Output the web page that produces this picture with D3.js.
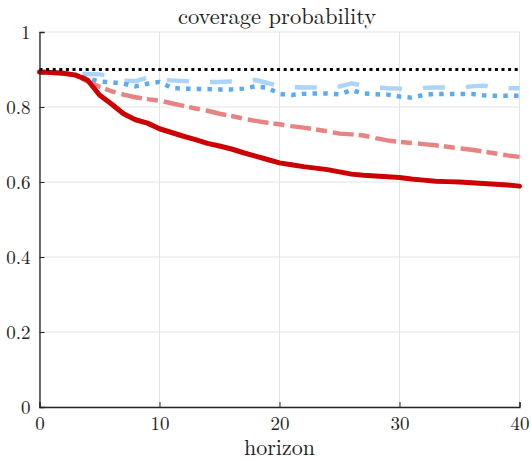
<!DOCTYPE html>
<html>
<head>
<meta charset="utf-8">
<script src="https://cdn.jsdelivr.net/npm/d3@7"></script>
<style>
  body { margin: 0; background: #fff; }
</style>
</head>
<body>
<div id="chart"></div>
<script>
// data, horizon 0..40
const horizons = d3.range(0, 41);
const solidRed = [0.893,0.892,0.890,0.885,0.872,0.832,0.808,0.782,0.766,0.757,0.742,0.732,0.722,0.713,0.703,0.696,0.688,0.678,0.669,0.660,0.651,0.646,0.641,0.637,0.633,0.627,0.621,0.618,0.616,0.614,0.612,0.608,0.605,0.602,0.601,0.600,0.598,0.596,0.594,0.592,0.589];
const dashRed = [0.895,0.893,0.890,0.885,0.868,0.854,0.842,0.833,0.826,0.821,0.817,0.810,0.803,0.796,0.790,0.782,0.776,0.769,0.763,0.758,0.754,0.749,0.745,0.740,0.735,0.729,0.727,0.724,0.717,0.711,0.707,0.704,0.701,0.698,0.694,0.690,0.686,0.681,0.676,0.671,0.667];
const dashBlue = [0.892,0.891,0.890,0.889,0.888,0.887,0.882,0.870,0.869,0.878,0.874,0.871,0.869,0.868,0.867,0.867,0.868,0.866,0.872,0.864,0.856,0.853,0.852,0.852,0.850,0.855,0.863,0.857,0.852,0.850,0.849,0.849,0.851,0.852,0.852,0.852,0.855,0.857,0.852,0.850,0.850];
const dotBlue = [0.892,0.891,0.889,0.886,0.876,0.868,0.866,0.862,0.855,0.862,0.867,0.851,0.849,0.848,0.848,0.847,0.847,0.849,0.855,0.851,0.835,0.832,0.835,0.836,0.836,0.834,0.845,0.836,0.834,0.833,0.828,0.825,0.832,0.835,0.835,0.835,0.835,0.831,0.830,0.830,0.830];
const nominal = horizons.map(() => 0.9);

const xTicks = [0, 10, 20, 30, 40];
const yTicks = [0, 0.2, 0.4, 0.6, 0.8, 1];

const width = 532, height = 461;
const margin = {left: 39.5, right: 12.5, top: 32, bottom: 54};
const font = '"Latin Modern Roman", "Liberation Serif", serif';

const svg = d3.select('#chart').append('svg')
    .attr('width', width)
    .attr('height', height);

const x = d3.scaleLinear().domain([0, 40]).range([margin.left, width - margin.right]);
const y = d3.scaleLinear().domain([0, 1]).range([height - margin.bottom, margin.top]);

// grid
const grid = svg.append('g').attr('stroke', '#e3e3e3').attr('stroke-width', 1);
grid.selectAll('.gx').data(xTicks).enter().append('line')
    .attr('x1', d => x(d)).attr('x2', d => x(d))
    .attr('y1', y(0)).attr('y2', y(1));
grid.selectAll('.gy').data(yTicks).enter().append('line')
    .attr('x1', x(0)).attr('x2', x(40))
    .attr('y1', d => y(d)).attr('y2', d => y(d));

// series
const line = vals => d3.line().x((d, i) => x(horizons[i])).y(d => y(d))(vals);
const series = [
  {v: dashBlue, color: '#acd3f8', w: 4.5, dash: '22,21', cap: 'butt'},
  {v: dotBlue, color: '#5aaaf4', w: 4.5, dash: '4.5,6.2', cap: 'butt'},
  {v: dashRed, color: '#e88383', w: 4.5, dash: '21,5,11,6', cap: 'butt'},
  {v: solidRed, color: '#cc0000', w: 5, dash: null, cap: 'round'},
  {v: nominal, color: '#000', w: 3, dash: '3,3.6', cap: 'butt'}
];
series.forEach(s => {
  svg.append('path')
      .attr('d', line(s.v))
      .attr('fill', 'none')
      .attr('stroke', s.color)
      .attr('stroke-width', s.w)
      .attr('stroke-linejoin', 'round')
      .attr('stroke-linecap', s.cap)
      .attr('stroke-dasharray', s.dash);
});

// axes
const xAxis = d3.axisBottom(x).tickValues(xTicks).tickSize(-5).tickPadding(10).tickFormat(d3.format('d'));
const yAxis = d3.axisLeft(y).tickValues(yTicks).tickSize(-5).tickPadding(9).tickFormat(d => d === 0 || d === 1 ? d : d.toFixed(1));

const gx = svg.append('g').attr('transform', 'translate(0,' + y(0) + ')').call(xAxis);
const gy = svg.append('g').attr('transform', 'translate(' + x(0) + ',0)').call(yAxis);
[gx, gy].forEach(g => {
  g.select('.domain').attr('stroke', '#262626').attr('stroke-width', 1.3);
  g.selectAll('.tick line').attr('stroke', '#262626');
  g.selectAll('.tick text').style('font-family', font).style('font-size', '19px').attr('fill', '#222');
});

svg.append('text')
    .attr('x', x(19.8)).attr('y', 24)
    .attr('text-anchor', 'middle')
    .style('font-family', font)
    .style('font-size', '22.5px')
    .attr('fill', '#222')
    .text('coverage probability');

svg.append('text')
    .attr('x', x(20)).attr('y', 455)
    .attr('text-anchor', 'middle')
    .style('font-family', font)
    .style('font-size', '22px')
    .attr('fill', '#222')
    .text('horizon');
</script>
</body>
</html>
